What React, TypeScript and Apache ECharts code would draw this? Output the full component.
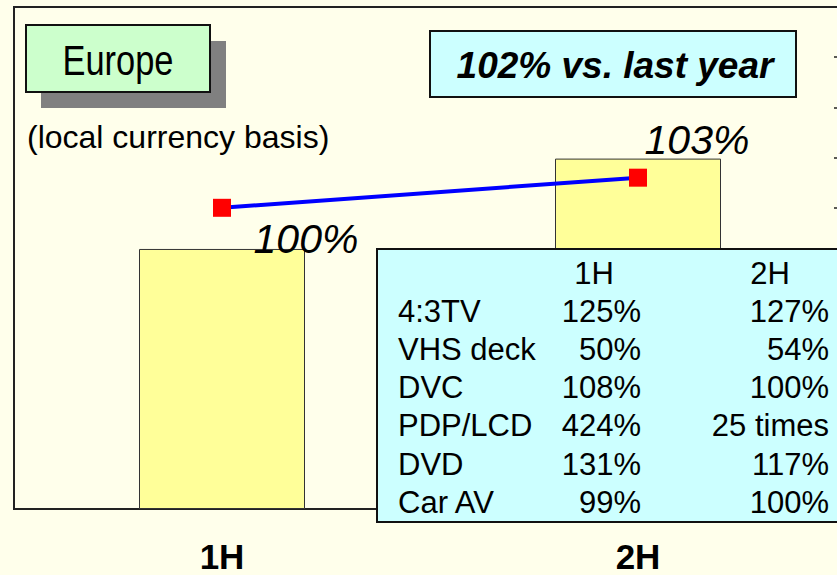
import React, { useEffect, useRef } from "react";
import * as echarts from "echarts";

const categories = ["1H", "2H"];
const barValues = [51.8, 69.8];
const lineValues = [100, 103];
const tableHeader = ["1H", "2H"];
const products = ["4:3TV", "VHS deck", "DVC", "PDP/LCD", "DVD", "Car AV"];
const growth1H = ["125%", "50%", "108%", "424%", "131%", "99%"];
const growth2H = ["127%", "54%", "100%", "25 times", "117%", "100%"];
const titleText = "Europe";
const subtitleText = "(local currency basis)";
const headlineText = "102% vs. last year";

const SANS = '"Liberation Sans", Arial, sans-serif';

export default function App() {
  const ref = useRef<HTMLDivElement>(null);
  useEffect(() => {
    if (!ref.current) return;
    const chart = echarts.init(ref.current, undefined, { renderer: "svg" });
    const labelOffsets = [
      [84, 31],
      [59, -38],
    ];
    const rowY = [311, 349, 387, 425, 464, 502];
    const tableTexts: any[] = [];
    const tStyle = (text: string, align: string) => ({
      text, fontSize: 31, fontFamily: SANS, fill: "#000", align, verticalAlign: "middle",
    });
    tableTexts.push({ type: "text", x: 594, y: 273, z: 102, style: tStyle(tableHeader[0], "center") });
    tableTexts.push({ type: "text", x: 770, y: 273, z: 102, style: tStyle(tableHeader[1], "center") });
    products.forEach((p, i) => {
      tableTexts.push({ type: "text", x: 398, y: rowY[i], z: 102, style: tStyle(p, "left") });
      tableTexts.push({ type: "text", x: 641, y: rowY[i], z: 102, style: tStyle(growth1H[i], "right") });
      tableTexts.push({ type: "text", x: 829, y: rowY[i], z: 102, style: tStyle(growth2H[i], "right") });
    });

    const option: any = {
      animation: false,
      backgroundColor: "#FFFFEB",
      grid: {
        left: 14, top: 7, right: -9, bottom: 66,
        outerBoundsMode: "none",
        containLabel: false,
        show: true, borderColor: "#222", borderWidth: 2, backgroundColor: "transparent",
      },
      xAxis: {
        type: "category",
        data: categories,
        axisLine: { lineStyle: { color: "#222", width: 2 } },
        axisTick: { show: false },
        axisLabel: {
          fontFamily: SANS, fontWeight: "bold", fontSize: 35, color: "#000", margin: 30,
        },
      },
      yAxis: [
        { type: "value", min: 0, max: 100, show: false },
        {
          type: "value", position: "right", min: 70, max: 120, interval: 5,
          axisLine: { show: true, lineStyle: { color: "#222", width: 2 } },
          axisTick: { show: true, inside: true, length: 12, lineStyle: { color: "#222", width: 1.5 } },
          axisLabel: { show: false },
          splitLine: { show: false },
        },
      ],
      series: [
        {
          type: "bar",
          data: barValues,
          barWidth: 166,
          itemStyle: { color: "#FFFF99", borderColor: "#333", borderWidth: 1 },
          z: 2,
        },
        {
          type: "line",
          yAxisIndex: 1,
          data: lineValues.map((v, i) => ({ value: v, label: { offset: labelOffsets[i] } })),
          symbol: "rect",
          symbolSize: 18,
          lineStyle: { color: "#0000FF", width: 4 },
          itemStyle: { color: "#FF0000" },
          z: 3,
          label: {
            show: true,
            position: "inside",
            formatter: "{c}%",
            fontFamily: SANS,
            fontStyle: "italic",
            fontSize: 41,
            color: "#000",
          },
        },
      ],
      graphic: [
        { type: "rect", z: 100, shape: { x: 41, y: 41, width: 185, height: 67 }, style: { fill: "#808080" } },
        { type: "rect", z: 101, shape: { x: 26, y: 25, width: 184, height: 67 }, style: { fill: "#CCFFCC", stroke: "#111", lineWidth: 2 } },
        {
          type: "text", z: 102, x: 118, y: 60, scaleX: 0.82,
          style: { text: titleText, fontSize: 42, fontFamily: SANS, fill: "#000", align: "center", verticalAlign: "middle" },
        },
        {
          type: "text", z: 102, x: 27, y: 137,
          style: { text: subtitleText, fontSize: 32, fontFamily: SANS, fill: "#000", align: "left", verticalAlign: "middle" },
        },
        { type: "rect", z: 101, shape: { x: 430, y: 31, width: 366, height: 66 }, style: { fill: "#CCFFFF", stroke: "#111", lineWidth: 2 } },
        {
          type: "text", z: 102, x: 615, y: 65,
          style: {
            text: headlineText, fontSize: 37, fontFamily: SANS, fontWeight: "bold", fontStyle: "italic",
            fill: "#000", align: "center", verticalAlign: "middle",
          },
        },
        { type: "rect", z: 101, shape: { x: 377, y: 249, width: 480, height: 273 }, style: { fill: "#CCFFFF", stroke: "#111", lineWidth: 2 } },
        ...tableTexts,
      ],
    };
    chart.setOption(option);
    return () => chart.dispose();
  }, []);
  return (
    <div
      ref={ref}
      style={{ position: "fixed", left: 0, top: 0, width: 837, height: 575 }}
    />
  );
}
